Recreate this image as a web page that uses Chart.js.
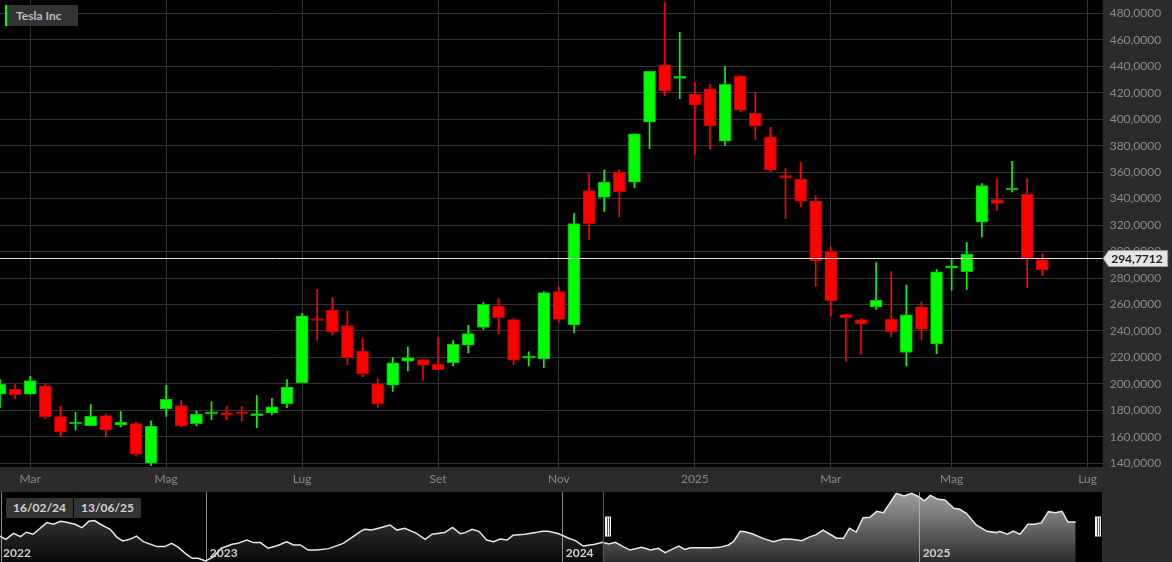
<!DOCTYPE html>
<html>
<head>
<meta charset="utf-8">
<title>Tesla Inc</title>
<script src="https://cdn.jsdelivr.net/npm/chart.js"></script>
<style>
  html, body { margin: 0; padding: 0; background: #2b2b2b; }
  body { width: 1172px; height: 562px; position: relative; overflow: hidden; font-family: Lato, sans-serif; }
  canvas { position: absolute; left: 0; }
  #main { top: 0; }
  #nav { top: 492px; }
  .tag { position: absolute; background: #333; font: bold 12px Lato, sans-serif; }
  #title { left: 5px; top: 5px; width: 62px; height: 21px; line-height: 21px; border-left: 2px solid #00ff00; padding-left: 9px; color: #bdbdbd; }
  .date { top: 498px; width: 67px; height: 20px; line-height: 20px; text-align: center; color: #d2d2d2; }
</style>
</head>
<body>
<canvas id="main" width="1172" height="492"></canvas>
<canvas id="nav" width="1172" height="70"></canvas>
<div id="title" class="tag">Tesla Inc</div>
<div id="dateFrom" class="tag date" style="left:6px"></div>
<div id="dateTo" class="tag date" style="left:74px"></div>
<script>
// ==========================================
// DATA (weekly candles, dated on the Friday)
// ==========================================
const weekDates = [
  '2024-02-16','2024-02-23','2024-03-01','2024-03-08','2024-03-15','2024-03-22','2024-03-29',
  '2024-04-05','2024-04-12','2024-04-19','2024-04-26','2024-05-03','2024-05-10','2024-05-17',
  '2024-05-24','2024-05-31','2024-06-07','2024-06-14','2024-06-21','2024-06-28','2024-07-05',
  '2024-07-12','2024-07-19','2024-07-26','2024-08-02','2024-08-09','2024-08-16','2024-08-23',
  '2024-08-30','2024-09-06','2024-09-13','2024-09-20','2024-09-27','2024-10-04','2024-10-11',
  '2024-10-18','2024-10-25','2024-11-01','2024-11-08','2024-11-15','2024-11-22','2024-11-29',
  '2024-12-06','2024-12-13','2024-12-20','2024-12-27','2025-01-03','2025-01-10','2025-01-17',
  '2025-01-24','2025-01-31','2025-02-07','2025-02-14','2025-02-21','2025-02-28','2025-03-07',
  '2025-03-14','2025-03-21','2025-03-28','2025-04-04','2025-04-11','2025-04-18','2025-04-25',
  '2025-05-02','2025-05-09','2025-05-16','2025-05-23','2025-05-30','2025-06-06','2025-06-13'
];
const openP = [
  192.2, 195.9, 192.2, 198.5, 175.3, 169.7, 168.5, 176.0, 169.0, 170.0,
  140.0, 181.1, 183.6, 170.0, 177.3, 178.1, 178.0, 176.0, 178.1, 185.1,
  201.0, 248.2, 255.7, 244.1, 224.7, 200.0, 199.0, 217.1, 218.4, 214.8,
  216.1, 229.2, 242.6, 258.7, 248.6, 219.5, 218.9, 269.8, 244.6, 346.1,
  340.9, 360.0, 352.5, 397.8, 440.9, 430.8, 419.0, 423.0, 383.4, 432.3,
  404.4, 386.5, 356.2, 354.7, 338.1, 300.0, 252.4, 248.6, 258.2, 248.9,
  223.7, 258.2, 230.2, 287.4, 284.7, 322.2, 339.3, 346.5, 343.4, 294.0
];
const highP = [
  203.3, 199.7, 205.8, 200.2, 183.1, 178.6, 184.4, 177.0, 179.1, 171.0,
  172.0, 199.0, 187.6, 179.6, 186.6, 183.1, 183.1, 191.2, 189.1, 203.3,
  253.2, 271.3, 265.3, 255.2, 234.3, 204.0, 219.9, 228.0, 218.4, 235.0,
  233.0, 244.3, 261.7, 264.5, 249.4, 224.2, 269.8, 273.3, 328.8, 359.0,
  361.5, 362.0, 389.0, 436.1, 488.3, 465.6, 427.6, 426.3, 439.7, 433.1,
  420.2, 393.8, 362.8, 367.3, 342.1, 303.6, 252.9, 249.4, 291.7, 284.9,
  274.6, 262.0, 286.4, 294.7, 306.8, 351.4, 355.2, 368.1, 355.2, 298.0
];
const lowP = [
  182.1, 188.9, 192.2, 173.5, 159.9, 165.0, 168.5, 159.9, 167.5, 145.3,
  138.2, 175.5, 167.5, 168.2, 173.0, 173.0, 172.0, 167.0, 176.5, 182.1,
  201.0, 233.0, 236.8, 214.6, 205.3, 182.1, 194.4, 209.8, 202.8, 210.8,
  213.6, 223.4, 241.1, 238.0, 214.6, 213.6, 212.3, 246.4, 238.5, 309.1,
  330.3, 326.2, 348.2, 377.7, 417.7, 415.5, 373.4, 377.2, 380.2, 405.6,
  384.7, 360.3, 325.0, 333.8, 273.6, 251.1, 216.9, 222.2, 256.2, 235.5,
  213.6, 233.5, 222.9, 270.8, 271.3, 311.1, 330.8, 345.1, 272.8, 281.9
];
const closeP = [
  199.7, 191.9, 202.5, 175.0, 163.7, 171.0, 175.5, 165.0, 171.0, 146.8,
  168.0, 188.4, 168.2, 177.0, 178.8, 176.3, 177.4, 177.6, 182.6, 197.5,
  251.4, 247.9, 239.3, 219.9, 207.8, 185.1, 215.9, 219.9, 214.1, 210.8,
  230.0, 238.0, 260.2, 250.1, 217.9, 220.4, 269.0, 248.9, 321.2, 321.0,
  352.5, 345.1, 389.0, 436.1, 421.3, 431.8, 410.7, 395.0, 426.3, 406.9,
  395.0, 361.8, 355.8, 338.1, 293.0, 262.7, 250.1, 245.1, 263.2, 239.5,
  252.1, 241.1, 284.7, 289.2, 298.0, 349.9, 336.3, 347.0, 295.2, 286.2
];
const lastPrice = 294.7712;

const monthTickDates = ['2024-03-01','2024-05-03','2024-07-05','2024-09-06','2024-11-01',
                        '2025-01-03','2025-03-07','2025-05-02','2025-07-04'];
const monthTickLabels = ['Mar','Mag','Lug','Set','Nov','2025','Mar','Mag','Lug'];
const priceTicks = [140, 160, 180, 200, 220, 240, 260, 280, 300, 320, 340, 360, 380, 400, 420, 440, 460, 480];
const viewEnd = '2025-07-11';

// navigator (overview) series, days counted from 1 Jan 2023
const navYearLabels = ['2022','2023','2024','2025'];
const navYearDates = ['2022-01-01','2023-01-01','2024-01-01','2025-01-01'];
const navDays = [
  -211,-205,-197,-190,-184,-177,-163,-156,-149,-143,-134,-127,-120,-114,-108,-102,-98,-91,-85,-78,
  -71,-64,-50,-42,-35,-28,-21,-14,-8,0,8,16,27,33,42,49,56,64,73,83,
  90,97,105,114,126,141,151,160,163,170,179,189,196,204,216,225,232,245,253,261,
  266,273,280,288,295,302,309,315,327,338,345,351,360,365,372,379,387,399,407,413,
  420,428,435,447,456,464,471,478,485,491,497,519,527,536,541,548,553,561,572,582,
  592,601,611,620,626,633,640,647,654,660,667,674,681,688,695,708,716,724,731,737,
  743,751,758,767,773,780,790,801,811,814,822,828,835,843,850,857,864,871,878,884,892
];
const navValues = [
  245,227,260,242,266,255,319,310,326,321,310,291,326,330,310,293,282,238,218,227,
  245,214,187,187,205,183,150,123,123,108,132,178,200,205,223,209,209,178,192,214,
  196,196,168,168,176,205,242,275,282,278,291,306,278,288,260,227,255,264,293,258,
  264,282,271,223,214,229,223,249,255,264,271,271,260,251,233,220,190,200,211,201,
  211,187,168,183,168,178,154,172,190,172,181,181,183,196,214,271,269,256,231,214,
  229,227,220,242,253,278,255,233,233,288,267,346,348,381,373,480,465,480,461,439,
  469,447,443,398,392,370,306,271,264,271,255,273,255,310,310,319,379,373,381,322,322
];
const navRange = ['2022-06-04', '2025-07-08'];
const navSelection = ['2024-02-12', '2025-07-08'];
const navSelectionText = ['16/02/24', '13/06/25'];

// ==========================================
// HELPERS
// ==========================================
const DAY = 86400000;
const t0 = Date.parse(weekDates[0]);
const toWeek = s => (Date.parse(s) - t0) / (7 * DAY);
const dayOf = s => (Date.parse(s) - Date.parse('2023-01-01')) / DAY;
const fmt = v => v.toFixed(4).replace('.', ',');

const UP = '#00ff00', DOWN = '#ff0000';
const UP_EDGE = '#00c000', DOWN_EDGE = '#c00000';
const isUp = i => closeP[i] >= openP[i];

Chart.defaults.font.family = 'Lato, sans-serif';

document.getElementById('dateFrom').textContent = navSelectionText[0];
document.getElementById('dateTo').textContent = navSelectionText[1];

// gray panels around a black plot area
const panelBg = {
  id: 'panelBg',
  beforeDraw(chart) {
    const { ctx, chartArea: a } = chart;
    ctx.save();
    ctx.fillStyle = '#2b2b2b';
    ctx.fillRect(0, 0, chart.width, chart.height);
    ctx.fillStyle = '#000';
    ctx.fillRect(a.left, a.top, a.right - a.left, a.bottom - a.top);
    ctx.restore();
  }
};

// last price line + tag on the axis
const lastPriceTag = {
  id: 'lastPriceTag',
  afterDraw(chart) {
    const { ctx, chartArea: a, scales: { y } } = chart;
    const py = Math.round(y.getPixelForValue(lastPrice)) + 0.5;
    ctx.save();
    ctx.strokeStyle = '#e6e6e6';
    ctx.lineWidth = 1;
    ctx.beginPath();
    ctx.moveTo(a.left, py);
    ctx.lineTo(a.right, py);
    ctx.stroke();

    const x0 = a.right, h = 8;
    ctx.beginPath();
    ctx.moveTo(x0 + 0.5, py);
    ctx.lineTo(x0 + 6, py - h);
    ctx.lineTo(x0 + 65, py - h);
    ctx.lineTo(x0 + 65, py + h);
    ctx.lineTo(x0 + 6, py + h);
    ctx.closePath();
    ctx.fillStyle = '#e6e6e6';
    ctx.fill();
    ctx.strokeStyle = '#9a9a9a';
    ctx.stroke();
    ctx.fillStyle = '#222';
    ctx.font = 'bold 12px Lato, sans-serif';
    ctx.textAlign = 'left';
    ctx.textBaseline = 'middle';
    ctx.fillText(fmt(lastPrice), x0 + 8.5, py + 0.5);
    ctx.restore();
  }
};

// ==========================================
// MAIN CANDLESTICK CHART
// ==========================================
const bodies = weekDates.map((d, i) => ({ x: toWeek(d), y: [openP[i], closeP[i]] }));
const wicks = weekDates.map((d, i) => ({ x: toWeek(d), y: [lowP[i], highP[i]] }));

new Chart(document.getElementById('main'), {
  type: 'bar',
  data: {
    datasets: [{
      data: bodies,
      order: 0,
      grouped: false,
      barThickness: 12,
      minBarLength: 2,
      borderWidth: 1,
      borderSkipped: false,
      backgroundColor: c => isUp(c.dataIndex) ? UP : DOWN,
      borderColor: c => isUp(c.dataIndex) ? UP_EDGE : DOWN_EDGE
    }, {
      data: wicks,
      order: 1,
      grouped: false,
      barThickness: 1,
      borderWidth: 0,
      backgroundColor: c => isUp(c.dataIndex) ? UP : DOWN
    }]
  },
  options: {
    responsive: false,
    animation: false,
    layout: { padding: 0 },
    plugins: { legend: { display: false }, tooltip: { enabled: false } },
    scales: {
      x: {
        type: 'linear',
        offset: false,
        min: 0,
        max: toWeek(viewEnd),
        afterBuildTicks: s => { s.ticks = monthTickDates.map(d => ({ value: toWeek(d) })); },
        afterFit: s => { s.height = 25; s.paddingLeft = 0; s.paddingRight = 0; },
        grid: { color: '#333', drawTicks: false, offset: false },
        border: { display: false },
        ticks: {
          color: '#8a8a8a', font: { size: 12 }, padding: 5,
          maxRotation: 0, autoSkip: false,
          callback: (v, i) => monthTickLabels[i]
        }
      },
      y: {
        position: 'right',
        min: 137.2,
        max: 490.05,
        afterBuildTicks: s => { s.ticks = priceTicks.map(v => ({ value: v })); },
        afterFit: s => { s.width = 69.3; s.paddingTop = 0; s.paddingBottom = 0; },
        grid: { color: '#333', drawTicks: false },
        border: { display: false },
        ticks: {
          color: '#8a8a8a', font: { size: 12 }, padding: 7, crossAlign: 'near',
          callback: v => fmt(v)
        }
      }
    }
  },
  plugins: [panelBg, lastPriceTag]
});

// ==========================================
// NAVIGATOR
// ==========================================
let navPattern = null;
function navFill(chart) {
  const a = chart.chartArea;
  if (!a) return 'rgba(0,0,0,0)';
  if (navPattern) return navPattern;
  const sx = chart.scales.x.getPixelForValue(dayOf(navSelection[0]));
  const off = document.createElement('canvas');
  off.width = chart.width;
  off.height = chart.height;
  const c = off.getContext('2d');
  const dark = c.createLinearGradient(0, a.top, 0, a.bottom);
  dark.addColorStop(0, '#4c4c4c');
  dark.addColorStop(1, '#080808');
  c.fillStyle = dark;
  c.fillRect(a.left, a.top, sx - a.left, a.bottom - a.top);
  const light = c.createLinearGradient(0, a.top, 0, a.bottom);
  light.addColorStop(0, '#a0a0a0');
  light.addColorStop(1, '#2c2c2c');
  c.fillStyle = light;
  c.fillRect(sx, a.top, a.right - sx, a.bottom - a.top);
  navPattern = chart.ctx.createPattern(off, 'no-repeat');
  return navPattern;
}

function drawHandle(ctx, x, y) {
  ctx.fillStyle = '#f2f2f2';
  ctx.fillRect(x, y, 6, 20);
  ctx.fillStyle = '#555';
  ctx.fillRect(x + 2, y + 1, 1, 18);
  ctx.fillRect(x + 4, y + 1, 1, 18);
}

const navDecor = {
  id: 'navDecor',
  afterDatasetsDraw(chart) {
    const { ctx, chartArea: a, scales: { x } } = chart;
    ctx.save();
    ctx.lineWidth = 1;
    ctx.font = 'bold 12px Lato, sans-serif';
    ctx.textBaseline = 'alphabetic';
    navYearDates.forEach((d, i) => {
      let px = x.getPixelForValue(dayOf(d));
      let lx = px + 4;
      if (px < a.left) { px = a.left + 1; lx = a.left + 3; }
      px = Math.round(px) + 0.5;
      ctx.strokeStyle = 'rgba(190,190,190,0.75)';
      ctx.beginPath();
      ctx.moveTo(px, a.top);
      ctx.lineTo(px, a.bottom);
      ctx.stroke();
      ctx.fillStyle = '#d0d0d0';
      ctx.fillText(navYearLabels[i], lx, a.top + 65);
    });
    const sx = Math.round(x.getPixelForValue(dayOf(navSelection[0]))) + 0.5;
    ctx.strokeStyle = '#555';
    ctx.beginPath();
    ctx.moveTo(sx, a.top);
    ctx.lineTo(sx, a.bottom);
    ctx.stroke();
    drawHandle(ctx, sx + 1.5, a.top + 24.5);
    drawHandle(ctx, a.right - 7, a.top + 24.5);
    ctx.restore();
  }
};

new Chart(document.getElementById('nav'), {
  type: 'line',
  data: {
    datasets: [{
      data: navDays.map((d, i) => ({ x: d, y: navValues[i] })),
      borderColor: '#e8e8e8',
      borderWidth: 1.5,
      pointRadius: 0,
      tension: 0,
      fill: 'start',
      backgroundColor: c => navFill(c.chart)
    }]
  },
  options: {
    responsive: false,
    animation: false,
    layout: { padding: { left: 0, right: 70, top: 0, bottom: 0 } },
    plugins: { legend: { display: false }, tooltip: { enabled: false } },
    scales: {
      x: { type: 'linear', display: false, min: dayOf(navRange[0]), max: dayOf(navRange[1]) },
      y: { display: false, min: 102.5, max: 487.2 }
    }
  },
  plugins: [panelBg, navDecor]
});
</script>
</body>
</html>
